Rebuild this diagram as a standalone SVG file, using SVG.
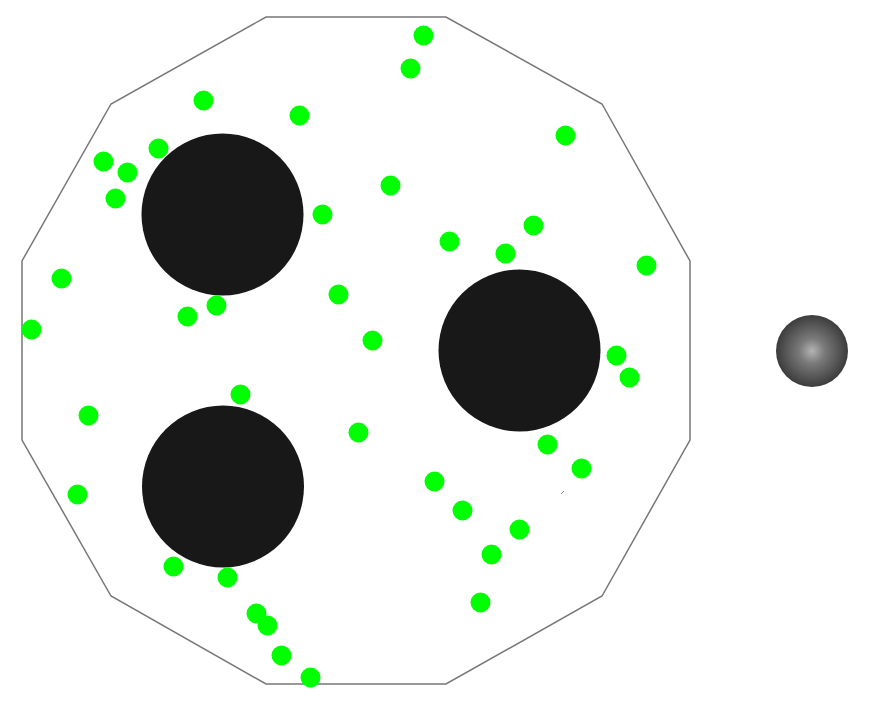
<svg xmlns="http://www.w3.org/2000/svg" width="870" height="705" viewBox="0 0 870 705">
<style>
.wall{fill:#fff;stroke:#777;stroke-width:1.5}
.obs{fill:#181818}
.dot{fill:#00ff00}
</style>
<defs>
<radialGradient id="sph" cx="0.5" cy="0.5" r="0.5">
<stop offset="0" stop-color="#b4b4b4"/>
<stop offset="0.35" stop-color="#7a7a7a"/>
<stop offset="1" stop-color="#3c3c3c"/>
</radialGradient>
</defs>
<rect width="870" height="705" fill="#fff"/>
<polygon class="wall" points="266,17 446,17 602,104 690,261 690,440 602,596 446,684 266,684 111,596 22,440 22,261 111,104"/>
<g id="obstacles">
<circle class="obs" cx="222.5" cy="214.5" r="81"/>
<circle class="obs" cx="519.5" cy="350.5" r="81"/>
<circle class="obs" cx="223" cy="486.5" r="81"/>
</g>
<g id="dots">
<circle class="dot" cx="423.5" cy="35.5" r="10"/>
<circle class="dot" cx="410.5" cy="68.5" r="10"/>
<circle class="dot" cx="203.5" cy="100.5" r="10"/>
<circle class="dot" cx="299.5" cy="115.5" r="10"/>
<circle class="dot" cx="565.5" cy="135.5" r="10"/>
<circle class="dot" cx="158.5" cy="148.5" r="10"/>
<circle class="dot" cx="103.5" cy="161.5" r="10"/>
<circle class="dot" cx="127.5" cy="172.5" r="10"/>
<circle class="dot" cx="115.5" cy="198.5" r="10"/>
<circle class="dot" cx="390.5" cy="185.5" r="10"/>
<circle class="dot" cx="322.5" cy="214.5" r="10"/>
<circle class="dot" cx="533.5" cy="225.5" r="10"/>
<circle class="dot" cx="449.5" cy="241.5" r="10"/>
<circle class="dot" cx="505.5" cy="253.5" r="10"/>
<circle class="dot" cx="646.5" cy="265.5" r="10"/>
<circle class="dot" cx="61.5" cy="278.5" r="10"/>
<circle class="dot" cx="338.5" cy="294.5" r="10"/>
<circle class="dot" cx="216.5" cy="305.5" r="10"/>
<circle class="dot" cx="187.5" cy="316.5" r="10"/>
<circle class="dot" cx="31.5" cy="329.5" r="10"/>
<circle class="dot" cx="372.5" cy="340.5" r="10"/>
<circle class="dot" cx="616.5" cy="355.5" r="10"/>
<circle class="dot" cx="629.5" cy="377.5" r="10"/>
<circle class="dot" cx="240.5" cy="394.5" r="10"/>
<circle class="dot" cx="88.5" cy="415.5" r="10"/>
<circle class="dot" cx="358.5" cy="432.5" r="10"/>
<circle class="dot" cx="547.5" cy="444.5" r="10"/>
<circle class="dot" cx="581.5" cy="468.5" r="10"/>
<circle class="dot" cx="434.5" cy="481.5" r="10"/>
<circle class="dot" cx="77.5" cy="494.5" r="10"/>
<circle class="dot" cx="462.5" cy="510.5" r="10"/>
<circle class="dot" cx="519.5" cy="529.5" r="10"/>
<circle class="dot" cx="491.5" cy="554.5" r="10"/>
<circle class="dot" cx="173.5" cy="566.5" r="10"/>
<circle class="dot" cx="227.5" cy="577.5" r="10"/>
<circle class="dot" cx="480.5" cy="602.5" r="10"/>
<circle class="dot" cx="256.5" cy="613.5" r="10"/>
<circle class="dot" cx="267.5" cy="625.5" r="10"/>
<circle class="dot" cx="281.5" cy="655.5" r="10"/>
<circle class="dot" cx="310.5" cy="677.5" r="10"/>
</g>
<line x1="561" y1="494" x2="564" y2="491" stroke="#888" stroke-width="1"/>
<circle id="sphere" cx="812" cy="351" r="36" fill="url(#sph)"/>
</svg>
